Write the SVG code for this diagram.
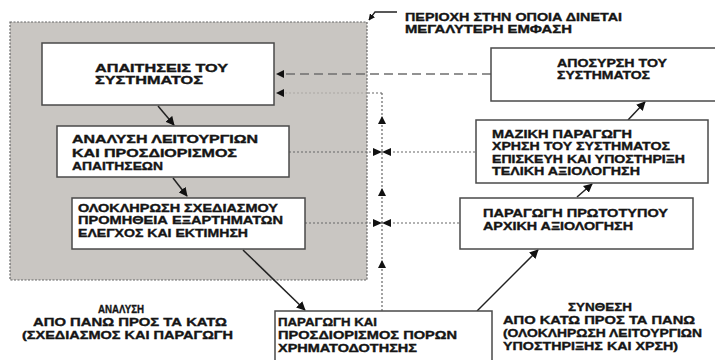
<svg xmlns="http://www.w3.org/2000/svg" width="715" height="360" viewBox="0 0 715 360">
<style>
.t{font-family:"Liberation Sans",Arial,sans-serif;font-weight:bold;font-size:11px;fill:#151515;stroke:#151515;stroke-width:0.35}
.box{fill:#fff;stroke:#4a4a4a;stroke-width:1.5}
.solid{fill:none;stroke:#222;stroke-width:1.5;marker-end:url(#ah)}
.dash{fill:none;stroke:#6f6f6f;stroke-width:1.6;stroke-dasharray:9 5}
.dot{fill:none;stroke:#666;stroke-width:1.2;stroke-dasharray:2 2}
.tri{fill:#111}
</style>
<defs>
<marker id="ah" viewBox="0 0 10 10" refX="9" refY="5" markerWidth="6" markerHeight="6" orient="auto" markerUnits="strokeWidth">
<path d="M0,0 L10,5 L0,10 z" fill="#111"/>
</marker>
<marker id="ah2" viewBox="0 0 10 10" refX="9" refY="5" markerWidth="5" markerHeight="5" orient="auto" markerUnits="strokeWidth">
<path d="M0,0 L10,5 L0,10 z" fill="#111"/>
</marker>
<polygon id="up" points="-4,4 4,4 0,-4"/>
<polygon id="left" points="8,-4 8,4 0,0"/>
</defs>

<g id="emphasis-region">
<rect x="10" y="22" width="357" height="258" fill="#c9c6c2" stroke="#666" stroke-width="1.2" stroke-dasharray="2 1.5"/>
</g>

<g id="connectors">
<path class="dash" d="M491,74 H284"/>
<use href="#left" x="276" y="74" class="tri"/>
<path d="M382,93 H367" class="dot"/>
<path d="M367,93 H284" fill="none" stroke="#aaa7a3" stroke-width="1" stroke-dasharray="2 2"/>
<use href="#left" x="276" y="93" class="tri"/>
<path class="dot" d="M382,93 V311"/>
<use href="#up" x="382" y="120" class="tri"/>
<use href="#up" x="382" y="192" class="tri"/>
<use href="#up" x="382" y="264" class="tri"/>
<path class="dot" d="M289,152 H476"/>
<path class="dot" d="M305,223 H460"/>
<polygon class="tri" points="373,148 373,156 382,152"/>
<polygon class="tri" points="391,148 391,156 382,152"/>
<polygon class="tri" points="373,219 373,227 382,223"/>
<polygon class="tri" points="391,219 391,227 382,223"/>
<path class="solid" d="M158,106 L174,125"/>
<path class="solid" d="M173,178 L187,196"/>
<path class="solid" d="M243,250 L305,310"/>
<path class="solid" d="M477,311 L538,250"/>
<path class="solid" d="M577,197 L592,184"/>
<path class="solid" d="M628,120 L645,102"/>
<path d="M397,12 H375 L369,20" fill="none" stroke="#222" stroke-width="1.3" marker-end="url(#ah2)"/>
</g>

<g id="n-requirements">
<rect class="box" x="42" y="43" width="232" height="62"/>
<text class="t" x="95" y="72" textLength="133" lengthAdjust="spacingAndGlyphs">ΑΠΑΙΤΗΣΕΙΣ ΤΟΥ</text>
<text class="t" x="95" y="84" textLength="108" lengthAdjust="spacingAndGlyphs">ΣΥΣΤΗΜΑΤΟΣ</text>
</g>

<g id="n-analysis">
<rect class="box" x="57" y="126" width="232" height="51"/>
<text class="t" x="72" y="143" textLength="186" lengthAdjust="spacingAndGlyphs">ΑΝΑΛΥΣΗ ΛΕΙΤΟΥΡΓΙΩΝ</text>
<text class="t" x="72" y="157" textLength="165" lengthAdjust="spacingAndGlyphs">ΚΑΙ ΠΡΟΣΔΙΟΡΙΣΜΟΣ</text>
<text class="t" x="72" y="170" textLength="91" lengthAdjust="spacingAndGlyphs">ΑΠΑΙΤΗΣΕΩΝ</text>
</g>

<g id="n-design">
<rect class="box" x="72" y="198" width="233" height="51"/>
<text class="t" x="78" y="212" textLength="200" lengthAdjust="spacingAndGlyphs">ΟΛΟΚΛΗΡΩΣΗ ΣΧΕΔΙΑΣΜΟΥ</text>
<text class="t" x="78" y="224" textLength="205" lengthAdjust="spacingAndGlyphs">ΠΡΟΜΗΘΕΙΑ ΕΞΑΡΤΗΜΑΤΩΝ</text>
<text class="t" x="78" y="237" textLength="170" lengthAdjust="spacingAndGlyphs">ΕΛΕΓΧΟΣ ΚΑΙ ΕΚΤΙΜΗΣΗ</text>
</g>

<g id="n-production-funding">
<rect class="box" x="275" y="311" width="217" height="52"/>
<text class="t" x="278" y="326" textLength="99" lengthAdjust="spacingAndGlyphs">ΠΑΡΑΓΩΓΗ ΚΑΙ</text>
<text class="t" x="278" y="339" textLength="179" lengthAdjust="spacingAndGlyphs">ΠΡΟΣΔΙΟΡΙΣΜΟΣ ΠΟΡΩΝ</text>
<text class="t" x="278" y="352" textLength="139" lengthAdjust="spacingAndGlyphs">ΧΡΗΜΑΤΟΔΟΤΗΣΗΣ</text>
</g>

<g id="n-retirement">
<rect class="box" x="491" y="48" width="230" height="53"/>
<text class="t" x="557" y="67" textLength="110" lengthAdjust="spacingAndGlyphs">ΑΠΟΣΥΡΣΗ ΤΟΥ</text>
<text class="t" x="557" y="79" textLength="93" lengthAdjust="spacingAndGlyphs">ΣΥΣΤΗΜΑΤΟΣ</text>
</g>

<g id="n-mass-production">
<rect class="box" x="476" y="120" width="232" height="63"/>
<text class="t" x="492" y="138" textLength="140" lengthAdjust="spacingAndGlyphs">ΜΑΖΙΚΗ ΠΑΡΑΓΩΓΗ</text>
<text class="t" x="492" y="150" textLength="178" lengthAdjust="spacingAndGlyphs">ΧΡΗΣΗ ΤΟΥ ΣΥΣΤΗΜΑΤΟΣ</text>
<text class="t" x="492" y="163" textLength="193" lengthAdjust="spacingAndGlyphs">ΕΠΙΣΚΕΥΗ ΚΑΙ ΥΠΟΣΤΗΡΙΞΗ</text>
<text class="t" x="492" y="175" textLength="148" lengthAdjust="spacingAndGlyphs">ΤΕΛΙΚΗ ΑΞΙΟΛΟΓΗΣΗ</text>
</g>

<g id="n-prototype">
<rect class="box" x="460" y="198" width="233" height="51"/>
<text class="t" x="483" y="217" textLength="185" lengthAdjust="spacingAndGlyphs">ΠΑΡΑΓΩΓΗ ΠΡΩΤΟΤΥΠΟΥ</text>
<text class="t" x="483" y="230" textLength="150" lengthAdjust="spacingAndGlyphs">ΑΡΧΙΚΗ ΑΞΙΟΛΟΓΗΣΗ</text>
</g>

<g id="annotation">
<text class="t" x="405" y="21" textLength="217" lengthAdjust="spacingAndGlyphs">ΠΕΡΙΟΧΗ ΣΤΗΝ ΟΠΟΙΑ ΔΙΝΕΤΑΙ</text>
<text class="t" x="405" y="33" textLength="167" lengthAdjust="spacingAndGlyphs">ΜΕΓΑΛΥΤΕΡΗ  ΕΜΦΑΣΗ</text>
</g>

<g id="label-analysis">
<text class="t" x="98" y="313" textLength="46" lengthAdjust="spacingAndGlyphs">ΑΝΑΛΥΣΗ</text>
<text class="t" x="33" y="326" textLength="194" lengthAdjust="spacingAndGlyphs">ΑΠΟ ΠΑΝΩ ΠΡΟΣ ΤΑ ΚΑΤΩ</text>
<text class="t" x="22" y="339" textLength="211" lengthAdjust="spacingAndGlyphs">(ΣΧΕΔΙΑΣΜΟΣ ΚΑΙ ΠΑΡΑΓΩΓΗ</text>
</g>

<g id="label-synthesis">
<text class="t" x="568" y="311" textLength="64" lengthAdjust="spacingAndGlyphs">ΣΥΝΘΕΣΗ</text>
<text class="t" x="503" y="324" textLength="192" lengthAdjust="spacingAndGlyphs">ΑΠΟ ΚΑΤΩ ΠΡΟΣ ΤΑ ΠΑΝΩ</text>
<text class="t" x="503" y="337" textLength="199" lengthAdjust="spacingAndGlyphs">(ΟΛΟΚΛΗΡΩΣΗ ΛΕΙΤΟΥΡΓΙΩΝ</text>
<text class="t" x="503" y="350" textLength="175" lengthAdjust="spacingAndGlyphs">ΥΠΟΣΤΗΡΙΞΗΣ ΚΑΙ ΧΡΣΗ)</text>
</g>
</svg>
